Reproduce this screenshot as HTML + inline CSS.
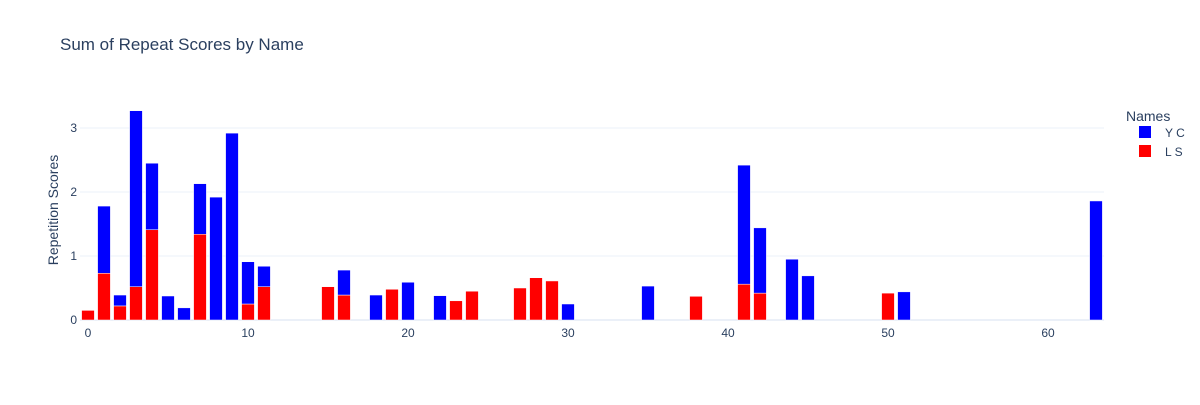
<!DOCTYPE html>
<html><head><meta charset="utf-8"><style>
body{margin:0;background:#fff;font-family:"Open Sans","Liberation Sans",sans-serif}
svg text{fill:#2a3f5f;font-family:"Liberation Sans",sans-serif}
</style></head><body>
<svg id="c" width="1200" height="400">
<rect width="1200" height="400" fill="#fff"/>
<text x="60" y="50" font-size="17">Sum of Repeat Scores by Name</text>
<g id="grid"></g><g id="bars"></g><g id="axes"></g>
<text transform="translate(58,210) rotate(-90)" text-anchor="middle" font-size="14">Repetition Scores</text>
<g>
<text x="1126" y="121" font-size="14">Names</text>
<g><rect x="1139" y="126" width="12" height="12" fill="#0000ff"/><text x="1165" y="137" font-size="12">Y C</text></g>
<g><rect x="1139" y="145" width="12" height="12" fill="#ff0000"/><text x="1165" y="156" font-size="12">L S</text></g>
</g>
</svg>
<script>
const xs=[0,1,2,3,4,5,6,7,8,9,10,11,15,16,18,19,20,22,23,24,27,28,29,30,35,38,41,42,44,45,50,51,63];
const lsVals=[0.15,0.73,0.22,0.52,1.41,0,0,1.34,0,0,0.25,0.52,0.52,0.39,0,0.48,0,0,0.30,0.45,0.50,0.66,0.61,0,0,0.37,0.56,0.42,0,0,0.42,0,0];
const ycVals=[0,1.05,0.17,2.75,1.04,0.375,0.19,0.79,1.92,2.92,0.66,0.32,0,0.39,0.39,0,0.59,0.38,0,0,0,0,0,0.25,0.53,0,1.86,1.02,0.95,0.69,0,0.44,1.86];
const xTicks=[0,10,20,30,40,50,60];
const yTicks=[0,1,2,3];
const X0=80,X1=1104,xmin=-0.5,xmax=63.5,Y0=320,ppu=64;
const xs_=v=>X0+(v-xmin)/(xmax-xmin)*(X1-X0);
const ys_=v=>Y0-v*ppu;
const NS='http://www.w3.org/2000/svg';
function mk(t,a,p){const e=document.createElementNS(NS,t);for(const k in a)e.setAttribute(k,a[k]);document.getElementById(p).appendChild(e);return e;}
const bw=(X1-X0)/(xmax-xmin)*0.8;
yTicks.forEach(t=>{
 if(t>0){const g=mk('line',{x1:X0,x2:X1,y1:ys_(t),y2:ys_(t),stroke:'#ebf0f8','stroke-width':1},'grid');
 
 }
 const l=mk('text',{x:X0-3,y:ys_(t)+4,'text-anchor':'end','font-size':12},'axes');l.textContent=t;
 
 
});
const zl=mk('line',{x1:X0,x2:X1,y1:Y0,y2:Y0,stroke:'#ebf0f8','stroke-width':2},'grid');


xTicks.forEach(t=>{
 const l=mk('text',{x:xs_(t),y:Y0+17,'text-anchor':'middle','font-size':12},'axes');l.textContent=t;
 
 
});
xs.forEach((x,i)=>{
 const cx=xs_(x)-bw/2;
 if(lsVals[i]>0){const r=mk('rect',{x:cx,y:ys_(lsVals[i]),width:bw,height:lsVals[i]*ppu,fill:'#ff0000',stroke:'#fff','stroke-width':0.5},'bars');
 
 }
 if(ycVals[i]>0){const r=mk('rect',{x:cx,y:ys_(lsVals[i]+ycVals[i]),width:bw,height:ycVals[i]*ppu,fill:'#0000ff',stroke:'#fff','stroke-width':0.5},'bars');
 
 }
});
</script>
</body></html>
